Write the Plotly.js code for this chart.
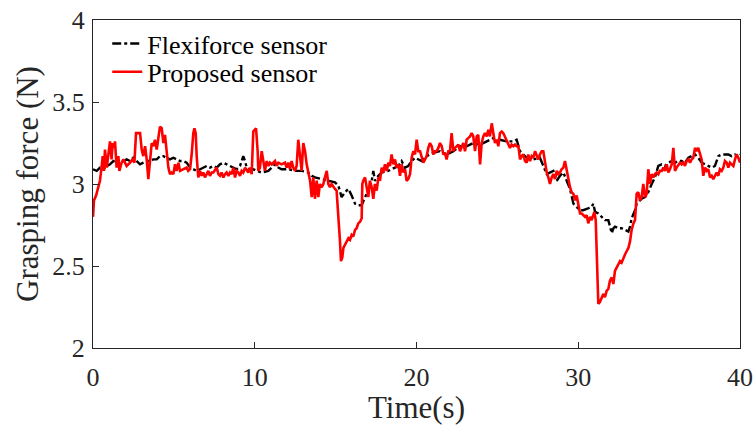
<!DOCTYPE html>
<html><head><meta charset="utf-8">
<script src="https://cdn.plot.ly/plotly-3.0.1.min.js"></script>
<style>html,body{margin:0;padding:0;background:#fff}</style>
</head><body>
<div id="chart" style="width:754px;height:425px"></div>
<script>
const seriesNames = ["Flexiforce sensor", "Proposed sensor"];
const flexiTime = [0,0.23,0.43,0.64,0.85,1.05,1.26,1.46,1.67,1.88,2.08,2.29,2.49,2.7,2.91,3.11,3.32,3.52,3.73,3.94,4.14,4.35,4.55,4.76,4.97,5.17,5.38,5.59,5.79,6,6.2,6.41,6.62,6.82,7.03,7.23,7.44,7.65,7.85,8.06,8.26,8.47,8.68,8.88,9.09,9.29,9.4,9.5,9.71,9.91,10.12,
10.43,10.84,11.05,11.25,11.46,11.66,12.08,12.49,12.9,13.31,13.52,13.72,14.14,14.55,14.96,15.17,15.27,15.37,15.58,15.79,15.99,16.2,16.4,16.61,16.82,17.02,17.23,17.33,17.43,17.64,17.85,18.26,18.67,18.88,19.08,19.29,19.49,19.7,19.91,20.11,
20.32,20.63,21.04,21.45,21.86,22.28,22.69,23.1,23.51,23.93,24.34,24.75,25.16,25.57,25.99,26.19,26.4,26.81,27.22,27.63,28.05,28.46,28.67,28.87,29.08,29.28,29.49,29.7,29.9,30.11,30.31,
30.52,30.62,30.83,30.93,31.04,31.24,31.45,31.65,31.86,31.96,32.07,32.17,32.27,32.48,32.68,32.89,33.1,33.2,33.3,33.51,33.61,33.71,33.92,34.13,34.33,34.54,34.64,34.74,34.95,35.16,35.36,35.57,35.78,35.98,36.19,36.39,36.6,36.81,37.01,37.22,37.42,37.63,37.84,38.04,38.25,38.45,38.66,38.87,39.07,39.28,39.48,39.69,39.9,40];
const flexiForce = [3.09,3.08,3.10,3.09,3.11,3.12,3.14,3.13,3.15,3.14,3.15,3.14,3.16,3.14,3.12,3.13,3.14,3.14,3.15,3.15,3.17,3.17,3.16,3.15,3.16,3.15,3.14,3.14,3.13,3.10,3.09,3.08,3.09,3.10,3.11,3.10,3.11,3.10,3.12,3.13,3.12,3.11,3.10,3.09,3.11,3.17,3.14,3.10,3.08,3.09,3.08,
3.07,3.08,3.10,3.12,3.10,3.09,3.09,3.08,3.08,3.07,3.05,3.04,3.03,3.02,3.01,2.99,2.96,2.92,2.95,2.97,2.93,2.88,2.87,2.87,2.92,2.96,3.02,3.08,3.02,3.05,3.07,3.08,3.10,3.11,3.14,3.10,3.11,3.14,3.16,3.15,
3.14,3.17,3.19,3.20,3.18,3.20,3.23,3.23,3.25,3.24,3.26,3.28,3.27,3.26,3.26,3.27,3.20,3.16,3.15,3.16,3.06,3.08,3.02,3.05,3.07,3.02,2.97,2.88,2.86,2.84,2.84,
2.85,2.85,2.86,2.88,2.83,2.82,2.80,2.78,2.78,2.74,2.70,2.73,2.74,2.73,2.73,2.72,2.71,2.74,2.79,2.84,2.88,2.89,2.91,2.92,2.95,3.00,3.02,3.04,3.11,3.12,3.11,3.13,3.14,3.13,3.14,3.14,3.13,3.16,3.17,3.18,3.16,3.13,3.12,3.11,3.10,3.11,3.17,3.18,3.18,3.18,3.17,3.18,3.17,3.18];
const proposedTime = [0,0.06,0.19,0.33,0.43,0.54,0.6,0.68,0.74,0.85,0.95,1.05,1.15,1.22,1.3,1.36,1.46,1.57,1.63,1.77,1.88,2.08,2.29,2.45,2.56,2.66,2.8,2.91,3.01,3.11,3.22,3.32,3.42,3.52,3.63,3.73,3.83,3.94,4.04,4.14,4.25,4.35,4.45,4.55,4.66,4.76,4.86,4.97,5.07,5.17,5.28,5.38,5.59,5.79,5.89,6,6.1,6.2,6.27,6.35,6.41,6.51,6.62,6.72,6.82,6.92,7.03,7.13,7.23,7.34,7.44,7.65,7.75,7.85,7.95,8.06,8.16,8.26,8.37,8.47,8.57,8.68,8.78,8.88,8.99,9.09,9.19,9.29,9.4,9.5,9.6,9.71,9.81,9.91,10.02,
10.08,10.18,10.22,10.32,10.43,10.53,10.63,10.74,10.84,10.94,11.05,11.25,11.35,11.46,11.66,11.87,11.97,12.08,12.18,12.28,12.38,12.49,12.59,12.69,12.8,12.9,13,13.11,13.21,13.31,13.42,13.52,13.62,13.72,13.83,13.93,14.03,14.14,14.24,14.34,14.45,14.55,14.65,14.75,14.86,14.96,15.06,15.17,15.27,15.33,15.41,15.48,15.58,15.68,15.79,15.89,15.99,16.09,16.2,16.3,16.4,16.51,16.61,16.65,16.71,16.82,16.92,17.02,17.12,17.23,17.33,17.43,17.54,17.64,17.74,17.85,17.95,18.05,18.16,18.26,18.36,18.46,18.57,18.67,18.77,18.88,18.98,19.08,19.19,19.29,19.39,19.49,19.6,19.7,19.8,19.91,20.01,20.11,
20.22,20.32,20.42,20.53,20.63,20.73,20.83,20.94,21.04,21.14,21.25,21.35,21.45,21.56,21.66,21.76,21.86,21.97,22.07,22.17,22.28,22.38,22.48,22.59,22.69,22.79,22.89,23,23.1,23.2,23.31,23.41,23.51,23.62,23.72,23.82,23.93,24.03,24.13,24.23,24.34,24.44,24.54,24.65,24.75,24.85,24.96,25.06,25.16,25.27,25.37,25.47,25.57,25.68,25.78,25.88,25.99,26.09,26.19,26.3,26.4,26.5,26.6,26.71,26.81,26.91,27.02,27.12,27.22,27.33,27.43,27.53,27.63,27.74,27.84,27.94,28.05,28.15,28.25,28.36,28.46,28.56,28.67,28.77,28.87,28.97,29.08,29.18,29.28,29.39,29.49,29.59,29.7,29.8,29.9,30,30.11,30.21,30.31,
30.42,30.52,30.62,30.73,30.83,30.93,31,31.08,31.16,31.24,31.34,31.45,31.55,31.65,31.76,31.86,31.96,32.07,32.17,32.27,32.37,32.48,32.58,32.68,32.79,32.89,32.99,33.1,33.2,33.3,33.41,33.51,33.61,33.71,33.82,33.92,34.02,34.13,34.23,34.33,34.44,34.54,34.64,34.74,34.85,34.95,35.05,35.16,35.26,35.36,35.47,35.57,35.67,35.78,35.88,35.98,36.08,36.19,36.29,36.39,36.5,36.6,36.7,36.81,36.91,37.01,37.11,37.22,37.32,37.42,37.53,37.63,37.73,37.84,37.94,38.04,38.15,38.25,38.35,38.45,38.56,38.66,38.76,38.87,38.97,39.07,39.18,39.28,39.38,39.48,39.59,39.69,39.79,39.9,40];
const proposedForce = [2.80,2.90,2.93,2.98,3.02,3.11,3.17,3.08,3.21,3.10,3.18,3.26,3.15,3.25,3.22,3.26,3.10,3.17,3.08,3.13,3.15,3.11,3.13,3.15,3.13,3.31,3.31,3.31,3.21,3.17,3.23,3.15,3.03,3.15,3.25,3.23,3.27,3.21,3.27,3.35,3.34,3.25,3.30,3.18,3.10,3.06,3.07,3.06,3.12,3.08,3.13,3.08,3.09,3.10,3.08,3.09,3.18,3.31,3.34,3.31,3.17,3.04,3.08,3.05,3.07,3.04,3.06,3.08,3.05,3.07,3.07,3.10,3.06,3.05,3.07,3.04,3.06,3.07,3.05,3.07,3.06,3.10,3.04,3.08,3.07,3.05,3.08,3.07,3.10,3.08,3.07,3.10,3.06,3.32,3.33,
3.34,3.20,3.08,3.10,3.20,3.14,3.08,3.14,3.11,3.13,3.12,3.14,3.11,3.13,3.12,3.13,3.10,3.13,3.09,3.14,3.10,3.08,3.11,3.27,3.18,3.08,3.25,3.20,3.12,3.08,3.02,2.92,3.04,2.91,3.02,2.92,3.00,2.98,3.00,3.04,3.08,3.00,2.98,3.00,2.98,2.97,2.96,2.82,2.65,2.53,2.55,2.61,2.63,2.65,2.67,2.66,2.69,2.68,2.72,2.73,2.76,2.77,2.79,3.00,3.02,3.04,2.98,2.92,3.02,2.98,2.91,3.00,2.96,3.04,3.02,3.10,3.07,3.12,3.08,3.13,3.11,3.18,3.12,3.15,3.10,3.12,3.05,3.12,3.07,3.09,3.02,3.03,3.06,3.16,3.20,3.18,3.27,3.20,
3.20,3.16,3.13,3.15,3.17,3.22,3.25,3.23,3.18,3.20,3.20,3.22,3.25,3.23,3.18,3.19,3.15,3.20,3.20,3.31,3.20,3.22,3.23,3.24,3.20,3.23,3.25,3.20,3.27,3.28,3.29,3.31,3.29,3.20,3.29,3.30,3.12,3.25,3.29,3.31,3.29,3.33,3.29,3.37,3.31,3.25,3.27,3.23,3.31,3.32,3.31,3.29,3.27,3.25,3.22,3.24,3.23,3.24,3.23,3.23,3.15,3.17,3.18,3.14,3.13,3.18,3.14,3.17,3.16,3.20,3.17,3.15,3.18,3.20,3.20,3.14,3.07,3.04,3.00,3.04,3.06,3.03,3.08,3.06,3.07,3.09,3.10,3.14,3.08,3.02,2.98,2.95,2.94,2.90,2.93,2.88,2.82,2.82,2.81,
2.80,2.81,2.76,2.80,2.78,2.81,2.83,2.78,2.53,2.27,2.28,2.31,2.33,2.31,2.35,2.36,2.41,2.43,2.39,2.47,2.49,2.51,2.53,2.52,2.55,2.57,2.59,2.61,2.65,2.72,2.76,2.78,2.94,2.95,2.90,2.92,3.00,2.92,2.94,3.09,3.00,3.06,3.04,3.06,3.07,3.06,3.08,3.08,3.10,3.08,3.12,3.07,3.09,3.12,3.22,3.08,3.10,3.12,3.13,3.12,3.13,3.11,3.14,3.15,3.13,3.15,3.16,3.22,3.20,3.22,3.18,3.15,3.05,3.10,3.08,3.09,3.04,3.05,3.03,3.05,3.07,3.05,3.09,3.08,3.10,3.14,3.13,3.10,3.13,3.12,3.11,3.15,3.18,3.16,3.13];

const xTicks = [0, 10, 20, 30, 40];
const yTicks = [2, 2.5, 3, 3.5, 4];

const font = "Liberation Serif";
const traces = [
  {x: flexiTime, y: flexiForce, name: seriesNames[0], type: "scatter", mode: "lines", legend: "legend",
   line: {color: "#000000", width: 2.4, dash: "dashdot"}},
  {x: proposedTime, y: proposedForce, name: seriesNames[1], type: "scatter", mode: "lines", legend: "legend2",
   line: {color: "#ff0000", width: 2.6}}
];
const axisCommon = {
  showline: true, mirror: true, linecolor: "#262626", linewidth: 1,
  ticks: "inside", ticklen: 6, tickcolor: "#262626", tickwidth: 1,
  showgrid: false, zeroline: false,
  tickfont: {family: font, size: 26, color: "#262626"}
};
const legendCommon = {xanchor: "left", yanchor: "middle", x: 0.022,
  bgcolor: "rgba(255,255,255,0)", borderwidth: 0,
  font: {family: font, size: 26, color: "#000"}};
const layout = {
  width: 754, height: 425,
  margin: {l: 93, r: 14, t: 20, b: 77},
  paper_bgcolor: "#ffffff", plot_bgcolor: "#ffffff",
  showlegend: true,
  legend: Object.assign({}, legendCommon, {y: 0.928}),
  legend2: Object.assign({}, legendCommon, {y: 0.842}),
  xaxis: Object.assign({}, axisCommon, {range: [0, 40], tickvals: xTicks, ticklabelstandoff: 6,
    title: {text: "Time(s)", font: {family: font, size: 31, color: "#262626"}, standoff: 8}}),
  yaxis: Object.assign({}, axisCommon, {range: [2, 4], tickvals: yTicks, ticklabelstandoff: 2,
    title: {text: "Grasping force (N)", font: {family: font, size: 31, color: "#262626"}, standoff: 4}})
};
Plotly.newPlot("chart", traces, layout, {staticPlot: true, displayModeBar: false});
</script>
</body></html>
